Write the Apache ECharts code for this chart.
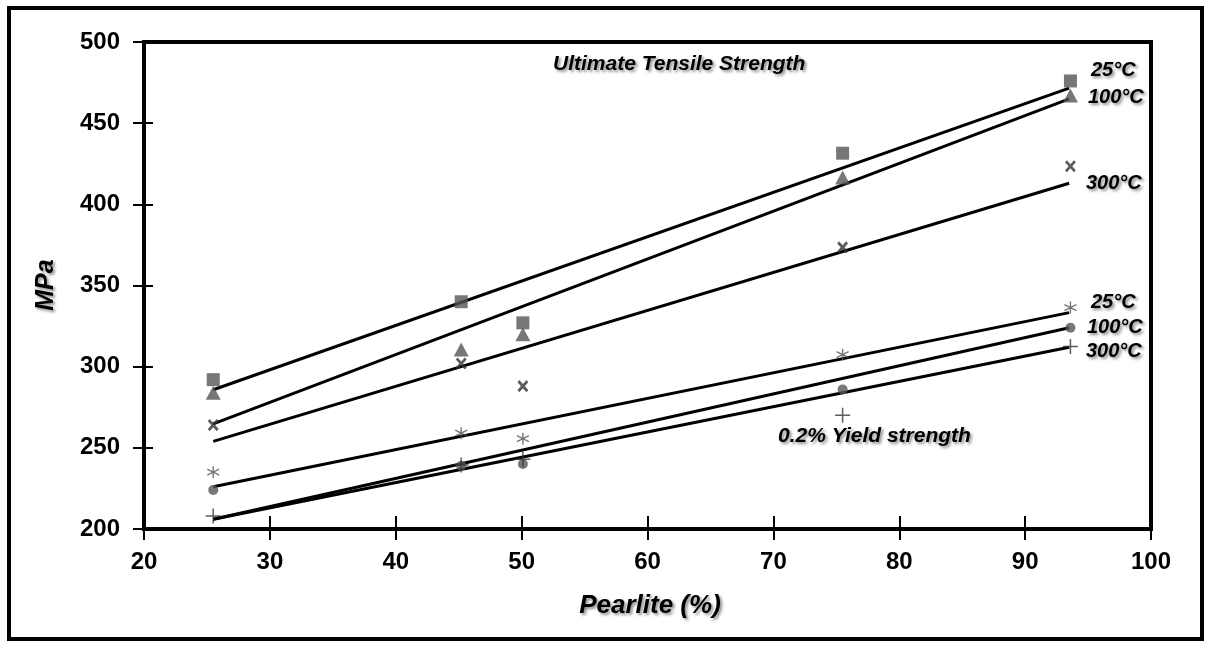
<!DOCTYPE html>
<html>
<head>
<meta charset="utf-8">
<script src="https://cdn.jsdelivr.net/npm/echarts@6/dist/echarts.min.js"></script>
<style>html,body{margin:0;padding:0;background:#fff;}#c{width:1212px;height:646px;}</style>
</head>
<body>
<div id="c"></div>
<script>
// Data
const pearlite = [25.5, 45.2, 50.1, 75.5, 93.6];
const uts25 = [292, 340, 327, 431.5, 476];
const uts100 = [284, 310.5, 320, 416.5, 467];
const uts300 = [264, 302, 288, 373.5, 423.5];
const ys25 = [235, 259, 255.6, 307.4, 336.4];
const ys100 = [224, 239, 240, 286, 324];
const ys300 = [208, 239.5, 243, 270, 312.5];
// trend line end points [x, y]
const fitX = [25.5, 93.5];
const fitUts25 = [285.8, 471.6];
const fitUts100 = [264.8, 465];
const fitUts300 = [254, 413];
const fitYs25 = [226, 333.3];
const fitYs100 = [206, 324];
const fitYs300 = [206, 312];
const xTicks = [20, 100, 10];
const yTicks = [200, 500, 50];

const FONT = '"Liberation Sans", Arial, sans-serif';
const pts = ys => pearlite.map((x, i) => [x, ys[i]]);
const fit = ys => fitX.map((x, i) => [x, ys[i]]);
const shadow = {textShadowColor: 'rgba(0,0,0,0.45)', textShadowBlur: 3, textShadowOffsetX: 2, textShadowOffsetY: 2};

const chart = echarts.init(document.getElementById('c'), null, {renderer: 'canvas'});

function xAx(inside, show) {
  return {type: 'value', min: xTicks[0], max: xTicks[1], interval: xTicks[2], position: 'bottom',
    axisLine: {show: true, onZero: false, lineStyle: {color: '#000', width: 4}},
    axisTick: {show: true, inside: inside, length: inside ? 13 : 11, lineStyle: {color: '#000', width: 2}},
    axisLabel: {show: show, margin: 21, color: '#000', fontSize: 24, fontWeight: 'bold', fontFamily: FONT},
    splitLine: {show: false}};
}
function yAx(inside, show) {
  return {type: 'value', min: yTicks[0], max: yTicks[1], interval: yTicks[2], position: 'left',
    axisLine: {show: true, onZero: false, lineStyle: {color: '#000', width: 4}},
    axisTick: {show: true, inside: inside, length: inside ? 9 : 11, lineStyle: {color: '#000', width: 2}},
    axisLabel: {show: show, margin: 24, color: '#000', fontSize: 24, fontWeight: 'bold', fontFamily: FONT},
    splitLine: {show: false}};
}

const grey = '#555555';
const lineS = (d) => ({type: 'line', data: fit(d), showSymbol: false, symbol: 'none', silent: true,
  lineStyle: {color: '#000', width: 3}, z: 2, animation: false});

const series = [
  lineS(fitUts25), lineS(fitUts100), lineS(fitUts300), lineS(fitYs25), lineS(fitYs100), lineS(fitYs300),
  {type: 'scatter', data: pts(uts25), symbol: 'rect', symbolSize: 13, itemStyle: {color: grey}, z: 3},
  {type: 'scatter', data: pts(uts100), symbol: 'triangle', symbolSize: [15, 14], itemStyle: {color: grey}, z: 3},
  {type: 'scatter', data: pts(uts300), symbol: 'path://M0,0 L10,10 M10,0 L0,10', symbolSize: [9, 10], itemStyle: {color: 'transparent', borderColor: '#333', borderWidth: 2.8}, z: 3},
  {type: 'scatter', data: pts(ys25), symbol: 'path://M5,0 L5,10 M0.7,2.5 L9.3,7.5 M0.7,7.5 L9.3,2.5', symbolSize: 12, itemStyle: {color: 'transparent', borderColor: grey, borderWidth: 1.4}, z: 3},
  {type: 'scatter', data: pts(ys100), symbol: 'circle', symbolSize: 10, itemStyle: {color: grey}, z: 3},
  {type: 'scatter', data: pts(ys300), symbol: 'path://M0,5 L10,5 M5,0 L5,10', symbolSize: 15, itemStyle: {color: 'transparent', borderColor: '#333', borderWidth: 1.5}, z: 3}
];

function txt(x, y, s, size, align) {
  return {type: 'text', x: x, y: y, z: 10,
    style: Object.assign({text: s, fill: '#000', font: 'italic bold ' + size + 'px ' + FONT, textAlign: align || 'left', textVerticalAlign: 'middle'}, shadow)};
}

chart.setOption({
  animation: false,
  backgroundColor: '#fff',
  grid: {left: 144, top: 42, right: 61, bottom: 117, show: true, borderColor: '#000', borderWidth: 4, backgroundColor: 'transparent'},
  xAxis: [xAx(false, true), xAx(true, false)],
  yAxis: [yAx(false, true), yAx(true, false)],
  series: series,
  graphic: [
    {type: 'rect', shape: {x: 9, y: 8, width: 1193, height: 631}, style: {fill: 'none', stroke: '#000', lineWidth: 4}, z: 10},
    txt(553, 64, 'Ultimate Tensile Strength', 21),
    txt(778, 436, '0.2% Yield strength', 21),
    txt(1091, 70, '25°C', 20),
    txt(1088, 97, '100°C', 20),
    txt(1086, 183, '300°C', 20),
    txt(1091, 302, '25°C', 20),
    txt(1087, 327, '100°C', 20),
    txt(1086, 351, '300°C', 20),
    txt(650, 606, 'Pearlite (%)', 26, 'center'),
    {type: 'text', x: 46, y: 285, rotation: Math.PI / 2, z: 10,
      style: Object.assign({text: 'MPa', fill: '#000', font: 'italic bold 25px ' + FONT, textAlign: 'center', textVerticalAlign: 'middle'}, shadow)}
  ]
});
</script>
</body>
</html>
